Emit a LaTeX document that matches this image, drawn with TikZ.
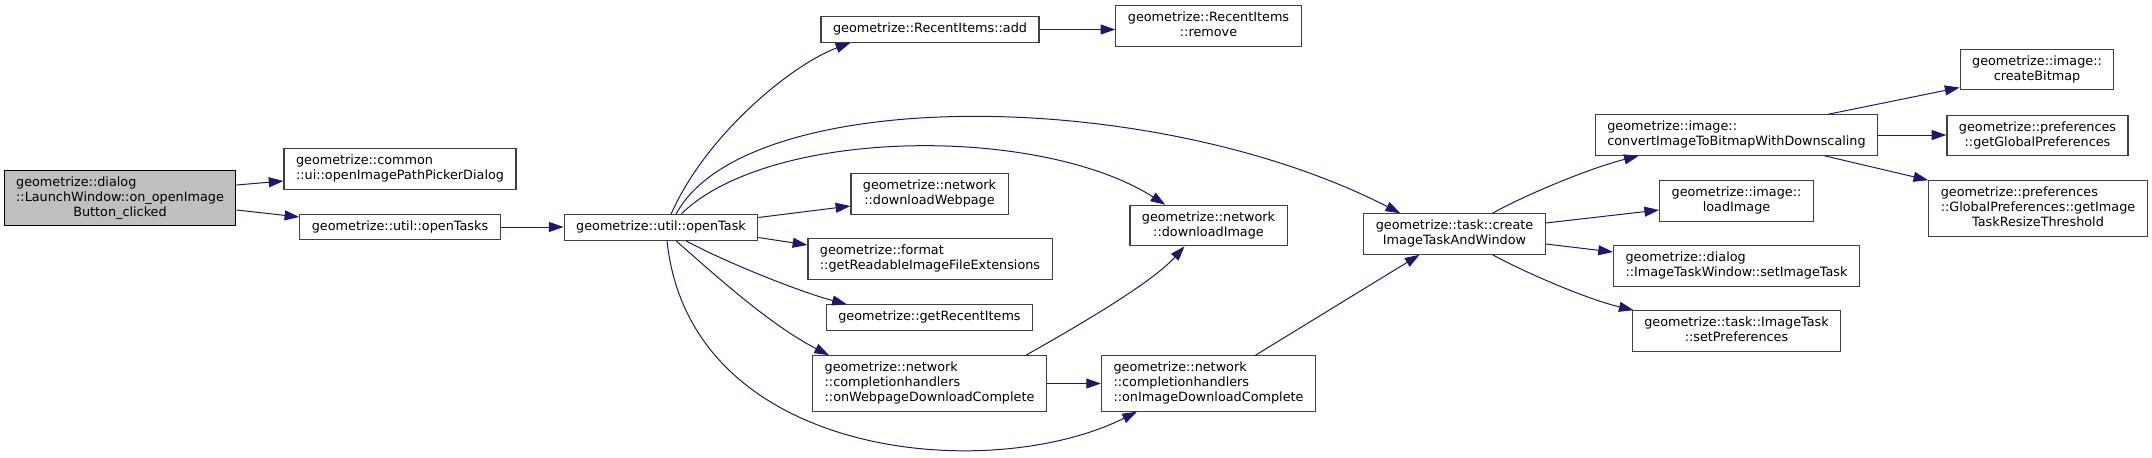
\documentclass[tikz,border=0pt]{standalone}
\usepackage{fontspec}
\setmainfont{DejaVu Sans}
\usepackage{tikz}
\usetikzlibrary{arrows.meta,calc}
\usepackage{xcolor}
\definecolor{EdgeBlue}{HTML}{191970}
\definecolor{BoxGrey}{HTML}{404040}
\definecolor{RootFill}{HTML}{BFBFBF}

\newcommand{\fnleft}[1]{\begin{tabular}{@{}l@{}}#1\end{tabular}}
\newcommand{\fnmid}[1]{\begin{tabular}{@{}c@{}}#1\end{tabular}}
\newcommand{\lastmid}[1]{\multicolumn{1}{@{}c@{}}{#1}}

\tikzset{
  fnbox/.style={draw=BoxGrey,line width=0.9pt,fill=white,inner xsep=9pt,inner ysep=3.9pt,
    font=\fontsize{9.6pt}{11.25pt}\selectfont},
  rootbox/.style={fnbox,fill=RootFill,draw=black},
  call/.style={->,EdgeBlue,line width=0.75pt}
}

\begin{document}
\begin{tikzpicture}[x=0.75pt,y=-0.75pt,>={Triangle[length=11pt,width=7.5pt]}]
  \useasboundingbox (0,0) rectangle (2152,457);
  % functions
  \node[rootbox] (lw) at (120,198) {\fnleft{geometrize::dialog\\::LaunchWindow::on\_openImage\\\lastmid{Button\_clicked}}};
  \node[fnbox] (pick) at (400,169) {\fnleft{geometrize::common\\::ui::openImagePathPickerDialog}};
  \node[fnbox] (tasks) at (400,227) {\fnmid{geometrize::util::openTasks}};
  \node[fnbox] (ot) at (661,227.5) {\fnmid{geometrize::util::openTask}};
  \node[fnbox] (add) at (930,29.5) {\fnmid{geometrize::RecentItems::add}};
  \node[fnbox] (rem) at (1208.5,26) {\fnmid{geometrize::RecentItems\\::remove}};
  \node[fnbox] (dweb) at (929.5,194) {\fnmid{geometrize::network\\::downloadWebpage}};
  \node[fnbox] (read) at (930,259) {\fnleft{geometrize::format\\::getReadableImageFileExtensions}};
  \node[fnbox] (recent) at (929.5,317.5) {\fnmid{geometrize::getRecentItems}};
  \node[fnbox] (onweb) at (929.5,383.5) {\fnleft{geometrize::network\\::completionhandlers\\::onWebpageDownloadComplete}};
  \node[fnbox] (dimg) at (1208.5,225.5) {\fnmid{geometrize::network\\::downloadImage}};
  \node[fnbox] (onimg) at (1208.5,383.5) {\fnleft{geometrize::network\\::completionhandlers\\::onImageDownloadComplete}};
  \node[fnbox] (create) at (1454.5,234) {\fnmid{geometrize::task::create\\ImageTaskAndWindow}};
  \node[fnbox] (conv) at (1736.5,135) {\fnleft{geometrize::image::\\convertImageToBitmapWithDownscaling}};
  \node[fnbox] (load) at (1736.5,201) {\fnmid{geometrize::image::\\loadImage}};
  \node[fnbox] (setimg) at (1736.5,266) {\fnleft{geometrize::dialog\\::ImageTaskWindow::setImageTask}};
  \node[fnbox] (setpref) at (1736.5,331) {\fnmid{geometrize::task::ImageTask\\::setPreferences}};
  \node[fnbox] (bitmap) at (2037,69.5) {\fnmid{geometrize::image::\\createBitmap}};
  \node[fnbox] (gprefs) at (2037.5,135.5) {\fnmid{geometrize::preferences\\::getGlobalPreferences}};
  \node[fnbox] (thresh) at (2038,208.5) {\fnleft{geometrize::preferences\\::GlobalPreferences::getImage\\\lastmid{TaskResizeThreshold}}};
  % calls
  \draw[call] ($(lw.east)+(0,-13)$) -- ($(pick.west)+(0,12)$);
  \draw[call] ($(lw.east)+(0,12)$) -- ($(tasks.west)+(0,-10)$);
  \draw[call] (tasks.east) -- (tasks.east -| ot.west);
  \draw[call] ($(ot.north)+(10,0)$) .. controls (706,135) and (791,65) .. ($(add.south west)+(30,0)$);
  \draw[call] (add.east) -- (add.east -| rem.west);
  \draw[call] ($(ot.north)+(15,0)$) .. controls (745,85) and (1150,85) .. ($(create.north west)+(37,0)$);
  \draw[call] ($(ot.north)+(20,0)$) .. controls (770,127) and (1040,125) .. ($(dimg.north west)+(36,0)$);
  \draw[call] ($(ot.east)+(0,-10)$) -- ($(dweb.west)+(0,12)$);
  \draw[call] ($(ot.east)+(0,10)$) -- ($(read.west)+(0,-14)$);
  \draw[call] ($(ot.south)+(25,0)$) .. controls (725,262) and (800,292) .. ($(recent.north west)+(21,0)$);
  \draw[call] ($(ot.south)+(15,0)$) .. controls (715,275) and (770,325) .. ($(onweb.north west)+(17,0)$);
  \draw[call] ($(ot.south)+(6,0)$) .. controls (690,460) and (990,485) .. ($(onimg.south west)+(36,0)$);
  \draw[call] (onweb.east) -- (onweb.east -| onimg.west);
  \draw[call] ($(onweb.north east)+(-21,0)$) .. controls (1065,333) and (1150,285) .. ($(dimg.south)+(-24,0)$);
  \draw[call] ($(onimg.north)+(47,0)$) -- ($(create.south)+(-35,0)$);
  \draw[call] ($(create.north)+(38,0)$) .. controls (1525,195) and (1590,168) .. ($(conv.south west)+(44,0)$);
  \draw[call] ($(create.east)+(0,-11)$) -- ($(load.west)+(0,9)$);
  \draw[call] ($(create.east)+(0,10)$) -- ($(setimg.west)+(0,-14)$);
  \draw[call] ($(create.south)+(38,0)$) .. controls (1530,275) and (1590,300) .. ($(setpref.north west)+(2,0)$);
  \draw[call] ($(conv.north)+(92,0)$) -- ($(bitmap.west)+(0,18)$);
  \draw[call] (conv.east) -- (conv.east -| gprefs.west);
  \draw[call] ($(conv.south)+(88,0)$) -- (thresh.north west);
\end{tikzpicture}
\end{document}
